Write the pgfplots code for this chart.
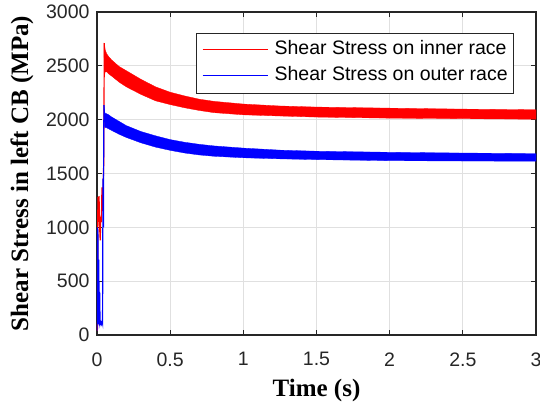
\documentclass[border=0pt]{standalone}
\usepackage{pgfplots}
\pgfplotsset{compat=1.18}
\usepackage{fontspec}
\setmainfont{Liberation Serif}
\setsansfont{Liberation Sans}
\newfontfamily\arial{Liberation Sans}

\definecolor{gridgray}{gray}{0.88}
\definecolor{axgray}{gray}{0.15}

% legend sample line followed by a small gap
\newcommand{\legline}[1]{\textcolor{#1}{\rule[0.25em]{65pt}{1.3pt}}\hspace{7pt}}

\begin{document}
\begin{tikzpicture}
\useasboundingbox (-97pt,-71pt) rectangle (443pt,335pt);
\begin{axis}[
  scale only axis,
  width=439pt, height=323pt,
  xmin=0, xmax=3, ymin=0, ymax=3000,
  xtick={0,0.5,...,3}, ytick={0,500,...,3000},
  xticklabels={0,0.5,1,1.5,2,2.5,3},
  yticklabel style={/pgf/number format/fixed, /pgf/number format/1000 sep={}, xshift=-4pt},
  xticklabel style={yshift=-14pt},
  /pgf/number format/assume math mode=true,
  tick label style={font=\arial\fontsize{19.5}{22}\selectfont, text=black!85},
  tick align=inside,
  major tick length=5pt,
  tick style={axgray, line width=1pt},
  axis line style={axgray, line width=1.5pt},
  grid=major,
  major grid style={gridgray, line width=0.9pt},
  xlabel={\textbf{Time (s)}},
  ylabel={\textbf{Shear Stress in left CB (MPa)}},
  label style={font=\fontsize{25}{28}\selectfont},
  xlabel style={at={(axis description cs:0.5,-0.172)}, anchor=center},
  ylabel style={at={(axis description cs:-0.171,0.5)}, anchor=center},
]

% inner race: start-up transient
\addplot[red, line width=1.2pt] coordinates {
  (0,40) (0.004,60) (0.006,1280) (0.010,1050) (0.014,1290) (0.018,1000)
  (0.022,880) (0.026,1100) (0.030,1050) (0.034,1370) (0.038,1150)
  (0.042,1380) (0.046,1600) (0.050,2710)
};
% inner race: fluctuation band (upper envelope, then lower envelope back)
\addplot[red, fill=red, line width=0.3pt] coordinates {
  (0.048,2710) (0.052,2700) (0.056,2650) (0.065,2615) (0.08,2585) (0.1,2555)
  (0.15,2495) (0.2,2455) (0.3,2375) (0.4,2305) (0.5,2255) (0.6,2220)
  (0.7,2190) (0.8,2170) (1.0,2145) (1.25,2127) (1.5,2117) (2.0,2107)
  (2.5,2098) (3.0,2092)
  (3.0,2004) (2.5,2009) (2.0,2014) (1.5,2024) (1.25,2034) (1.0,2045)
  (0.8,2065) (0.7,2085) (0.6,2110) (0.5,2140) (0.4,2175) (0.3,2235)
  (0.2,2305) (0.15,2350) (0.1,2405) (0.08,2425) (0.065,2445) (0.056,2445)
  (0.05,2400)
} -- cycle;

% outer race: start-up transient
\addplot[blue, line width=1.2pt] coordinates {
  (0,40) (0.002,1000) (0.004,150) (0.006,980) (0.009,100) (0.012,700)
  (0.015,90) (0.018,400) (0.021,100) (0.025,120) (0.030,100) (0.035,130)
  (0.038,110) (0.041,1450) (0.044,1000) (0.046,1900) (0.048,2135)
};
% outer race: fluctuation band
\addplot[blue, fill=blue, line width=0.3pt] coordinates {
  (0.047,2135) (0.05,2100) (0.055,2060) (0.065,2055) (0.08,2045) (0.1,2025)
  (0.15,1985) (0.2,1945) (0.3,1890) (0.4,1850) (0.5,1815) (0.6,1790)
  (0.7,1771) (0.8,1756) (1.0,1736) (1.25,1717) (1.5,1707) (2.0,1697)
  (2.5,1690) (3.0,1685)
  (3.0,1614) (2.5,1616) (2.0,1619) (1.5,1629) (1.25,1636) (1.0,1646)
  (0.8,1660) (0.7,1672) (0.6,1690) (0.5,1715) (0.4,1745) (0.3,1785)
  (0.2,1835) (0.15,1865) (0.1,1900) (0.08,1915) (0.065,1925) (0.055,1925)
  (0.05,1950)
} -- cycle;

% legend box in the upper right corner
\node[anchor=north east, draw=axgray, line width=0.8pt, fill=white,
      inner xsep=6pt, inner ysep=6pt,
      font=\arial\fontsize{19.5}{22}\selectfont]
  at (rel axis cs:0.950,0.935)
  {\begin{tabular}{@{}l@{}}
     \legline{red}Shear Stress on inner race\\[4pt]
     \legline{blue}Shear Stress on outer race
   \end{tabular}};
\end{axis}
\end{tikzpicture}
\end{document}
